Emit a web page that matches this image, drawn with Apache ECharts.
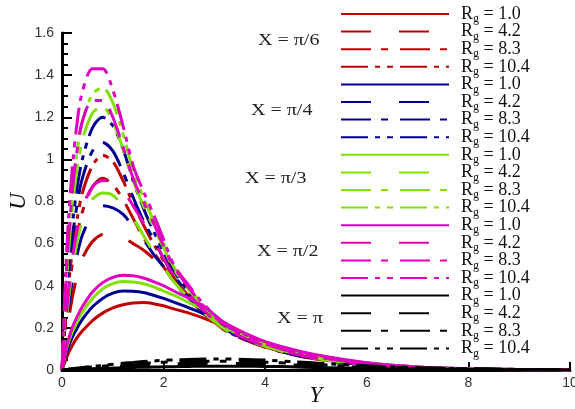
<!DOCTYPE html>
<html>
<head>
<meta charset="utf-8">
<script src="https://cdn.jsdelivr.net/npm/echarts@6/dist/echarts.min.js"></script>
<style>
  html, body { margin: 0; padding: 0; background: #fff; }
  #chart { width: 575px; height: 409px; }
</style>
</head>
<body>
<div id="chart"></div>
<script>
// sample positions along Y
var yGrid = [0, 0.1, 0.2, 0.3, 0.4, 0.6, 0.8, 1.0, 1.2, 1.4, 1.6, 1.8, 2.0, 2.2, 2.5, 2.8, 3.2, 3.6, 4.0, 4.5, 5.0, 6.0, 7.0, 8.0, 9.0, 10.0];
var rgValues = ['1.0', '4.2', '8.3', '10.4'];
var xLabels = ['π/6', 'π/4', 'π/3', 'π/2', 'π'];
var yTicks = [0, 0.2, 0.4, 0.6, 0.8, 1, 1.2, 1.4, 1.6];

// X = pi/6 (red)
var uPi6Rg1  = [0, 0.065, 0.115, 0.155, 0.185, 0.235, 0.27, 0.295, 0.31, 0.318, 0.32, 0.315, 0.305, 0.29, 0.27, 0.245, 0.205, 0.165, 0.128, 0.094, 0.068, 0.032, 0.013, 0.005, 0.002, 0];
var uPi6Rg4  = [0, 0.19, 0.34, 0.45, 0.53, 0.61, 0.645, 0.65, 0.63, 0.60, 0.57, 0.53, 0.48, 0.43, 0.35, 0.28, 0.2, 0.15, 0.112, 0.078, 0.054, 0.025, 0.01, 0.004, 0.001, 0];
var uPi6Rg8  = [0, 0.30, 0.50, 0.64, 0.75, 0.87, 0.91, 0.88, 0.81, 0.72, 0.63, 0.56, 0.49, 0.42, 0.34, 0.265, 0.19, 0.143, 0.108, 0.075, 0.052, 0.024, 0.01, 0.004, 0.001, 0];
var uPi6Rg10 = [0, 0.33, 0.56, 0.72, 0.84, 0.97, 1.02, 0.99, 0.90, 0.79, 0.69, 0.60, 0.52, 0.44, 0.35, 0.27, 0.19, 0.145, 0.11, 0.076, 0.053, 0.024, 0.01, 0.004, 0.001, 0];
// X = pi/4 (blue)
var uPi4Rg1  = [0, 0.09, 0.155, 0.20, 0.24, 0.30, 0.34, 0.365, 0.375, 0.374, 0.368, 0.355, 0.34, 0.322, 0.295, 0.265, 0.215, 0.17, 0.13, 0.096, 0.069, 0.033, 0.014, 0.006, 0.002, 0];
var uPi4Rg4  = [0, 0.24, 0.42, 0.55, 0.64, 0.74, 0.78, 0.77, 0.74, 0.68, 0.62, 0.55, 0.49, 0.42, 0.34, 0.27, 0.195, 0.147, 0.11, 0.076, 0.053, 0.024, 0.01, 0.004, 0.001, 0];
var uPi4Rg8  = [0, 0.37, 0.62, 0.79, 0.91, 1.04, 1.08, 1.04, 0.94, 0.82, 0.71, 0.62, 0.53, 0.45, 0.36, 0.28, 0.195, 0.148, 0.112, 0.078, 0.055, 0.025, 0.01, 0.004, 0.001, 0];
var uPi4Rg10 = [0, 0.40, 0.68, 0.87, 1.00, 1.15, 1.20, 1.16, 1.05, 0.90, 0.77, 0.66, 0.56, 0.47, 0.37, 0.29, 0.20, 0.15, 0.115, 0.08, 0.056, 0.026, 0.01, 0.004, 0.001, 0];
// X = pi/3 (green)
var uPi3Rg1  = [0, 0.11, 0.18, 0.23, 0.275, 0.34, 0.385, 0.41, 0.42, 0.418, 0.41, 0.395, 0.375, 0.355, 0.32, 0.285, 0.22, 0.172, 0.133, 0.098, 0.07, 0.033, 0.014, 0.006, 0.002, 0];
var uPi3Rg4  = [0, 0.27, 0.47, 0.61, 0.71, 0.81, 0.84, 0.83, 0.78, 0.72, 0.64, 0.56, 0.49, 0.42, 0.34, 0.27, 0.195, 0.148, 0.112, 0.078, 0.055, 0.025, 0.01, 0.004, 0.001, 0];
var uPi3Rg8  = [0, 0.46, 0.76, 0.96, 1.09, 1.22, 1.25, 1.18, 1.05, 0.90, 0.78, 0.68, 0.58, 0.48, 0.38, 0.29, 0.205, 0.155, 0.118, 0.083, 0.058, 0.027, 0.011, 0.004, 0.002, 0];
var uPi3Rg10 = [0, 0.50, 0.82, 1.04, 1.18, 1.31, 1.34, 1.27, 1.12, 0.95, 0.82, 0.71, 0.60, 0.49, 0.39, 0.30, 0.21, 0.16, 0.12, 0.085, 0.06, 0.028, 0.011, 0.004, 0.002, 0];
// X = pi/2 (magenta)
var uPi2Rg1  = [0, 0.12, 0.2, 0.255, 0.30, 0.37, 0.415, 0.44, 0.45, 0.447, 0.437, 0.42, 0.40, 0.375, 0.34, 0.30, 0.225, 0.175, 0.135, 0.1, 0.072, 0.034, 0.014, 0.006, 0.002, 0];
var uPi2Rg4  = [0, 0.30, 0.52, 0.67, 0.77, 0.87, 0.90, 0.89, 0.85, 0.78, 0.70, 0.62, 0.53, 0.45, 0.36, 0.28, 0.20, 0.15, 0.115, 0.08, 0.056, 0.026, 0.01, 0.004, 0.001, 0];
var uPi2Rg8  = [0, 0.52, 0.84, 1.05, 1.18, 1.28, 1.28, 1.20, 1.06, 0.91, 0.80, 0.70, 0.59, 0.49, 0.39, 0.30, 0.215, 0.165, 0.125, 0.088, 0.063, 0.03, 0.012, 0.005, 0.002, 0];
var uPi2Rg10 = [0, 0.60, 0.95, 1.18, 1.32, 1.43, 1.43, 1.33, 1.16, 0.97, 0.85, 0.74, 0.62, 0.50, 0.40, 0.31, 0.22, 0.17, 0.13, 0.09, 0.065, 0.03, 0.012, 0.005, 0.002, 0];
// X = pi (black)
var uPiRg1   = [0, 0.002, 0.003, 0.004, 0.005, 0.006, 0.008, 0.009, 0.011, 0.012, 0.013, 0.014, 0.015, 0.016, 0.017, 0.018, 0.018, 0.018, 0.017, 0.015, 0.012, 0.007, 0.004, 0.002, 0.001, 0];
var uPiRg4   = [0, 0.002, 0.004, 0.005, 0.007, 0.01, 0.013, 0.016, 0.019, 0.022, 0.024, 0.026, 0.028, 0.029, 0.03, 0.031, 0.031, 0.03, 0.028, 0.024, 0.02, 0.012, 0.007, 0.004, 0.002, 0];
var uPiRg8   = [0, 0.002, 0.005, 0.007, 0.01, 0.014, 0.018, 0.022, 0.026, 0.029, 0.032, 0.034, 0.037, 0.038, 0.04, 0.041, 0.042, 0.04, 0.037, 0.032, 0.026, 0.016, 0.009, 0.005, 0.002, 0];
var uPiRg10  = [0, 0.003, 0.006, 0.009, 0.012, 0.017, 0.022, 0.027, 0.032, 0.036, 0.04, 0.043, 0.046, 0.048, 0.05, 0.052, 0.052, 0.05, 0.047, 0.04, 0.033, 0.02, 0.011, 0.006, 0.003, 0];

var groups = [
  [uPi6Rg1, uPi6Rg4, uPi6Rg8, uPi6Rg10],
  [uPi4Rg1, uPi4Rg4, uPi4Rg8, uPi4Rg10],
  [uPi3Rg1, uPi3Rg4, uPi3Rg8, uPi3Rg10],
  [uPi2Rg1, uPi2Rg4, uPi2Rg8, uPi2Rg10],
  [uPiRg1, uPiRg4, uPiRg8, uPiRg10]
];
var colors = ['#c00000', '#000090', '#80e000', '#e000c0', '#000000'];
var dashes = ['solid', [30, 28], [30, 10, 7, 12], [27, 7, 5, 7, 6, 7]];

var series = [];
var legendNames = [];
groups.forEach(function (grp, gi) {
  grp.forEach(function (vals, ri) {
    var name = 'X=' + xLabels[gi] + ' Rg=' + rgValues[ri];
    legendNames.push(name);
    series.push({
      name: name,
      type: 'line',
      smooth: 0.3,
      symbol: 'none',
      color: colors[gi],
      lineStyle: { width: 3, color: colors[gi], type: dashes[ri] },
      data: yGrid.map(function (y, i) { return [y, vals[i]]; }),
      z: 2 + gi
    });
  });
});

// group titles beside the legend (glyphs in the source look stretched sideways)
var titleTops = [33, 103, 171, 244, 311];
var titleLefts = [258, 251, 245, 257, 277];
var graphics = xLabels.map(function (lab, gi) {
  return {
    type: 'text', x: titleLefts[gi], y: titleTops[gi], scaleX: 1.25,
    style: { text: 'X = ' + lab, font: '16px "Liberation Serif", serif', fill: '#222' }
  };
});

var chart = echarts.init(document.getElementById('chart'));
chart.setOption({
  animation: false,
  grid: { left: 62, right: 5, top: 33, bottom: 39, containLabel: false, outerBoundsMode: 'none' },
  xAxis: {
    type: 'value', min: 0, max: 10, interval: 2,
    name: 'Y', nameLocation: 'middle', nameGap: 14, nameMoveOverlap: false,
    nameTextStyle: { fontFamily: 'Liberation Serif', fontStyle: 'italic', fontSize: 23, color: '#111', verticalAlign: 'top' },
    axisLine: { lineStyle: { color: '#000', width: 3 } },
    axisTick: { inside: true, length: 8, lineStyle: { color: '#000', width: 2 } },
    axisLabel: { fontFamily: 'Liberation Sans', fontSize: 14, color: '#333', margin: 6 },
    splitLine: { show: false }
  },
  yAxis: {
    type: 'value', min: yTicks[0], max: yTicks[yTicks.length - 1], interval: 0.2,
    name: 'U', nameLocation: 'middle', nameGap: 43, nameRotate: 90, nameMoveOverlap: false,
    nameTextStyle: { fontFamily: 'Liberation Serif', fontStyle: 'italic', fontSize: 23, color: '#111', verticalAlign: 'middle' },
    axisLine: { lineStyle: { color: '#000', width: 3 } },
    axisTick: { inside: true, length: 10, lineStyle: { color: '#000', width: 2 } },
    minorTick: { show: true, splitNumber: 4, length: 6, lineStyle: { color: '#000', width: 2 } },
    axisLabel: { fontFamily: 'Liberation Sans', fontSize: 14, color: '#333', margin: 8 },
    splitLine: { show: false }
  },
  legend: {
    data: legendNames,
    orient: 'vertical',
    left: 335, top: -2,
    itemWidth: 108, itemHeight: 14, itemGap: -4.4,
    selectedMode: false,
    itemStyle: { opacity: 0 },
    formatter: function (name) {
      var rg = name.split('Rg=')[1];
      return '{r|R}{g|g}{t| = ' + rg + '}';
    },
    textStyle: {
      padding: [0, 0, 0, 7],
      rich: {
        r: { fontFamily: 'Liberation Serif', fontSize: 18, color: '#111', lineHeight: 14 },
        g: { fontFamily: 'Liberation Serif', fontSize: 12, color: '#111', lineHeight: 14, padding: [10, 0, 0, 0] },
        t: { fontFamily: 'Liberation Serif', fontSize: 18, color: '#111', lineHeight: 14 }
      }
    }
  },
  graphic: graphics,
  series: series
});
</script>
</body>
</html>
